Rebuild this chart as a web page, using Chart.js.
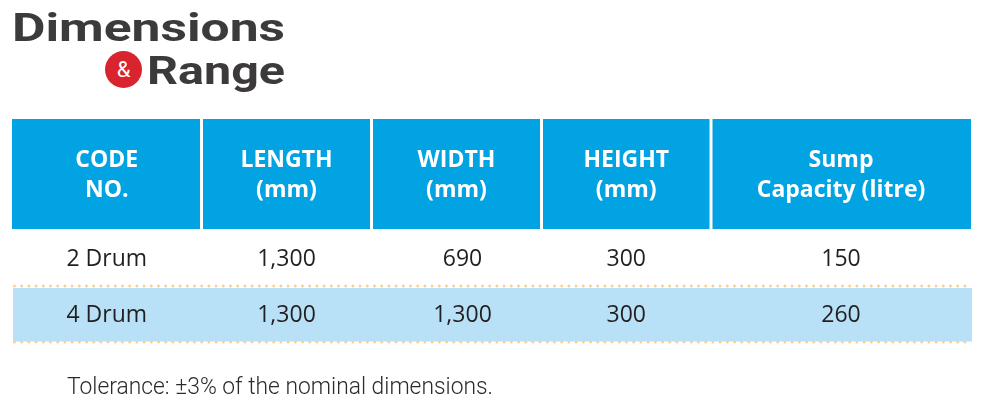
<!DOCTYPE html>
<html><head><meta charset="utf-8">
<script src="https://cdn.jsdelivr.net/npm/chart.js@4.4.1/dist/chart.umd.min.js"></script>
<style>
html,body{margin:0;padding:0;background:#fff;width:988px;height:404px;overflow:hidden}
#wrap{position:relative;width:988px;height:404px}
#c{position:absolute;left:0;top:0}
.t{position:absolute;left:0;top:0;white-space:nowrap;transform-origin:0 0;line-height:1}
.b{display:inline-block;width:0;height:0;vertical-align:baseline}
#t1,#t2{font-family:Roboto,"Open Sans",sans-serif;font-weight:700;font-size:39px;color:#3c3a3b}
#amp{position:absolute;border-radius:50%;background:#d9232e;color:#fff;text-align:center;font-family:Roboto,sans-serif;font-weight:400}
#foot{font-family:Roboto,Lato,sans-serif;font-weight:300;font-size:23px;color:#2b2b2b}
</style></head><body>
<div id="wrap">
<canvas id="c" width="988" height="404"></canvas>
<div id="t1" class="t"></div>
<div id="amp">&amp;</div>
<div id="t2" class="t"></div>
<div id="foot" class="t"></div>
</div>
<script>
// ---------- DATA ----------
const titleMain = 'Dimensions';
const titleSub = 'Range';
const headerLine1 = ['CODE', 'LENGTH', 'WIDTH', 'HEIGHT', 'Sump'];
const headerLine2 = ['NO.', '(mm)', '(mm)', '(mm)', 'Capacity (litre)'];
const codes = ['2 Drum', '4 Drum'];
const lengthMm = [1300, 1300];
const widthMm = [690, 1300];
const heightMm = [300, 300];
const sumpLitre = [150, 260];
const footnote = 'Tolerance: \u00b13% of the nominal dimensions.';

// ---------- LAYOUT / STYLE ----------
const colSpans = [189.5, 170, 170, 169.5, 260];   // relative column widths
const rowSpans = [2, 1, 1];                        // header is double height
const headerBg = '#02a3e3';
const rowBgs = ['#ffffff', '#b8e0f6'];
const dotColor = '#fccf94';
const bodyColor = '#231f20';
const sepGap = 3;

const fmt = v => (typeof v === 'number') ? v.toLocaleString('en-US') : v;
const bodyRows = codes.map((c, i) => [c, lengthMm[i], widthMm[i], heightMm[i], sumpLitre[i]]);
const cum = a => a.reduce((acc, v) => { acc.push(acc[acc.length - 1] + v); return acc; }, [0]);
const colEdges = cum(colSpans);
const rowEdges = cum(rowSpans);

const tablePlugin = {
  id: 'tablePlugin',
  afterDraw(chart) {
    const { ctx, scales: { x, y } } = chart;
    const X = v => x.getPixelForValue(v);
    const Y = v => y.getPixelForValue(v);
    const n = colSpans.length;
    ctx.save();
    // header cells
    ctx.fillStyle = headerBg;
    for (let i = 0; i < n; i++) {
      const l = X(colEdges[i]) + (i > 0 ? sepGap / 2 : 0);
      const r = X(colEdges[i + 1]) - (i < n - 1 ? sepGap / 2 : 0);
      ctx.fillRect(l, Y(rowEdges[0]), r - l, Y(rowEdges[1]) - Y(rowEdges[0]) - 2);
    }
    // body row backgrounds
    bodyRows.forEach((row, r) => {
      const top = Y(rowEdges[r + 1]), bot = Y(rowEdges[r + 2]);
      ctx.fillStyle = rowBgs[r % rowBgs.length];
      ctx.fillRect(X(colEdges[0]) + 1, top + 1, X(colEdges[n]) - X(colEdges[0]), bot - top - 2.5);
    });
    // dotted separators
    ctx.strokeStyle = dotColor;
    ctx.lineWidth = 3;
    ctx.lineCap = 'round';
    ctx.setLineDash([0, 7.2]);
    for (let r = 2; r < rowEdges.length; r++) {
      const yy = Y(rowEdges[r]) - 1;
      ctx.beginPath();
      ctx.moveTo(X(colEdges[0]) + 2.5, yy);
      ctx.lineTo(X(colEdges[n]) + 1, yy);
      ctx.stroke();
    }
    ctx.setLineDash([]);
    // header text
    ctx.textAlign = 'center';
    ctx.textBaseline = 'alphabetic';
    const hSize = 23;
    ctx.font = `700 ${hSize}px "Open Sans", sans-serif`;
    ctx.fillStyle = '#ffffff';
    const hc = (Y(rowEdges[0]) + Y(rowEdges[1])) / 2 - 1;
    const cap = 0.714;
    for (let i = 0; i < n; i++) {
      const cx = (X(colEdges[i]) + X(colEdges[i + 1])) / 2;
      ctx.fillText(headerLine1[i], cx, hc - 15 + cap * hSize / 2);
      ctx.fillText(headerLine2[i], cx, hc + 15 + cap * hSize / 2);
    }
    // body text
    const bSize = 23;
    ctx.font = `400 ${bSize}px "Open Sans", sans-serif`;
    ctx.fillStyle = bodyColor;
    bodyRows.forEach((row, r) => {
      const cy = (Y(rowEdges[r + 1]) + Y(rowEdges[r + 2])) / 2 - 1.5;
      row.forEach((v, i) => {
        const cx = (X(colEdges[i]) + X(colEdges[i + 1])) / 2 + (i === 2 ? 6 : 0);
        ctx.fillText(fmt(v), cx, cy + cap * bSize / 2);
      });
    });
    ctx.restore();
  }
};

new Chart(document.getElementById('c'), {
  type: 'scatter',
  data: { datasets: [] },
  options: {
    responsive: false,
    animation: false,
    devicePixelRatio: 1,
    layout: { padding: { left: 12, right: 17, top: 119, bottom: 61 } },
    plugins: { legend: { display: false }, tooltip: { enabled: false } },
    scales: {
      x: { type: 'linear', display: false, min: 0, max: colEdges[colEdges.length - 1] },
      y: { type: 'linear', display: false, reverse: true, min: 0, max: rowEdges[rowEdges.length - 1] }
    }
  },
  plugins: [tablePlugin]
});

// ---------- HTML text (title & footnote) ----------
function place(id, text, left, baseline, width) {
  const el = document.getElementById(id);
  el.innerHTML = '';
  el.appendChild(document.createTextNode(text));
  const m = document.createElement('span'); m.className = 'b'; el.appendChild(m);
  const w = el.getBoundingClientRect().width;
  const s = width / w;
  const base = m.offsetTop;
  el.style.left = left + 'px';
  el.style.top = (baseline - base) + 'px';
  el.style.transform = `scaleX(${s})`;
}
place('t1', titleMain, 12, 41, 273);
place('t2', titleSub, 147, 84, 138);
place('foot', footnote, 67, 393.5, 426);
const amp = document.getElementById('amp');
Object.assign(amp.style, { left: '105px', top: '51px', width: '37px', height: '37px', lineHeight: '38px', fontSize: '22px' });
</script>
</body></html>
